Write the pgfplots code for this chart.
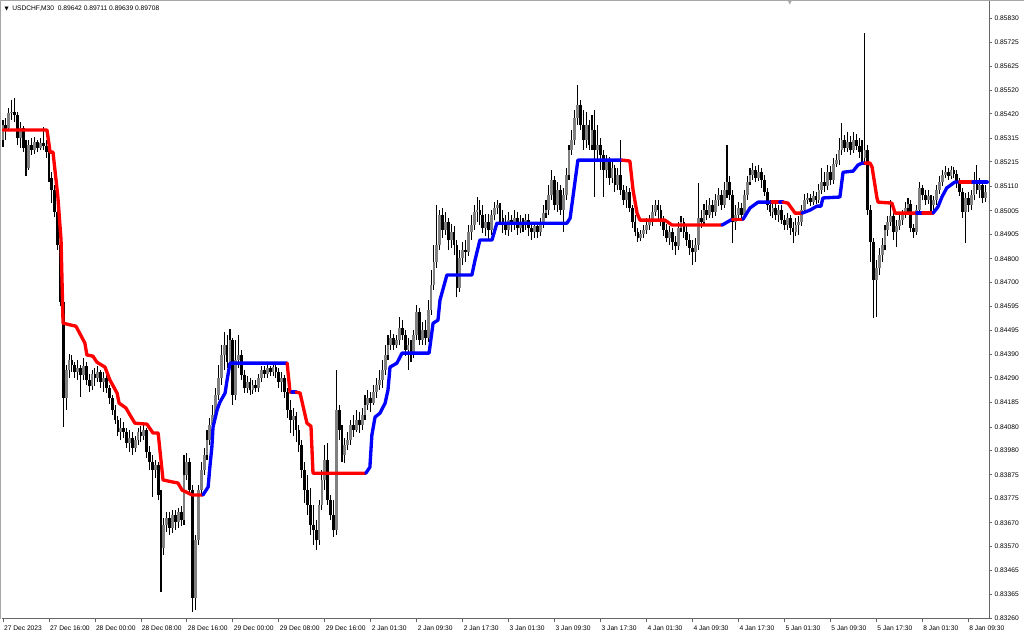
\documentclass[border=0pt]{standalone}
\usepackage{fontspec}
\setmainfont{Liberation Sans}
\newfontfamily\dejavu{DejaVu Sans}
\usepackage{pgfplots}
\usepackage{pgfplotstable}
\pgfplotsset{compat=1.18}
\newcommand\tf{\fontsize{5}{6}\selectfont}
\pgfplotsset{ind/.style={line width=2.5pt, line join=round, line cap=round, mark=none}}

\pgfplotstableread{
o h l c
0.85308 0.85393 0.85278 0.85372
0.85372 0.85402 0.85308 0.85351
0.85360 0.85445 0.85351 0.85423
0.85423 0.85479 0.85393 0.85427
0.85427 0.85488 0.85384 0.85415
0.85415 0.85427 0.85286 0.85317
0.85317 0.85384 0.85274 0.85360
0.85360 0.85367 0.85256 0.85274
0.85274 0.85308 0.85153 0.85188
0.85188 0.85308 0.85179 0.85286
0.85286 0.85317 0.85244 0.85265
0.85265 0.85321 0.85248 0.85299
0.85299 0.85308 0.85256 0.85274
0.85274 0.85317 0.85265 0.85295
0.85295 0.85364 0.85265 0.85282
0.85282 0.85308 0.85231 0.85256
0.85256 0.85265 0.85128 0.85145
0.85145 0.85170 0.85038 0.85094
0.85094 0.85116 0.84978 0.84999
0.84999 0.85017 0.84837 0.84859
0.84859 0.84880 0.84597 0.84614
0.84614 0.84623 0.84079 0.84204
0.84204 0.84345 0.84152 0.84323
0.84323 0.84392 0.84289 0.84366
0.84366 0.84388 0.84314 0.84345
0.84345 0.84357 0.84289 0.84314
0.84314 0.84366 0.84281 0.84332
0.84332 0.84345 0.84208 0.84302
0.84302 0.84375 0.84281 0.84340
0.84340 0.84357 0.84260 0.84281
0.84281 0.84306 0.84229 0.84255
0.84255 0.84323 0.84238 0.84306
0.84306 0.84332 0.84255 0.84289
0.84289 0.84340 0.84272 0.84314
0.84314 0.84323 0.84247 0.84272
0.84272 0.84314 0.84229 0.84289
0.84289 0.84302 0.84225 0.84247
0.84247 0.84260 0.84178 0.84204
0.84204 0.84217 0.84131 0.84152
0.84152 0.84174 0.84092 0.84109
0.84109 0.84126 0.84041 0.84058
0.84058 0.84118 0.84024 0.84075
0.84075 0.84100 0.84033 0.84058
0.84058 0.84075 0.83990 0.84011
0.84011 0.84067 0.83972 0.84033
0.84033 0.84058 0.83960 0.83990
0.83990 0.84041 0.83972 0.84024
0.84024 0.84075 0.84003 0.84058
0.84058 0.84083 0.84015 0.84041
0.84041 0.84092 0.84024 0.84067
0.84067 0.84075 0.83947 0.83972
0.83972 0.83998 0.83895 0.83929
0.83929 0.83960 0.83780 0.83895
0.83895 0.83938 0.83861 0.83917
0.83917 0.83929 0.83767 0.83789
0.83789 0.83810 0.83373 0.83562
0.83562 0.83690 0.83532 0.83660
0.83660 0.83715 0.83630 0.83690
0.83690 0.83715 0.83618 0.83647
0.83647 0.83724 0.83626 0.83703
0.83703 0.83724 0.83639 0.83672
0.83672 0.83733 0.83647 0.83715
0.83715 0.83741 0.83655 0.83681
0.83681 0.83960 0.83660 0.83874
0.83874 0.83968 0.83853 0.83929
0.83929 0.83947 0.83789 0.83810
0.83810 0.83832 0.83287 0.83348
0.83348 0.83618 0.83296 0.83596
0.83596 0.83832 0.83575 0.83810
0.83810 0.83929 0.83789 0.83895
0.83895 0.83990 0.83874 0.83960
0.83960 0.84067 0.83938 0.84024
0.84024 0.84118 0.84003 0.84088
0.84088 0.84174 0.84058 0.84131
0.84131 0.84247 0.84109 0.84217
0.84217 0.84345 0.84195 0.84289
0.84289 0.84430 0.84260 0.84388
0.84388 0.84486 0.84323 0.84430
0.84430 0.84473 0.84332 0.84357
0.84357 0.84499 0.84345 0.84452
0.84452 0.84461 0.84174 0.84217
0.84217 0.84452 0.84195 0.84366
0.84366 0.84473 0.84332 0.84388
0.84388 0.84409 0.84281 0.84302
0.84302 0.84323 0.84225 0.84247
0.84247 0.84297 0.84225 0.84272
0.84272 0.84289 0.84217 0.84238
0.84238 0.84281 0.84221 0.84260
0.84260 0.84281 0.84229 0.84247
0.84247 0.84306 0.84229 0.84289
0.84289 0.84340 0.84272 0.84323
0.84323 0.84340 0.84289 0.84306
0.84306 0.84349 0.84289 0.84332
0.84332 0.84340 0.84297 0.84314
0.84314 0.84357 0.84297 0.84336
0.84336 0.84349 0.84289 0.84314
0.84314 0.84332 0.84247 0.84272
0.84272 0.84314 0.84229 0.84289
0.84289 0.84302 0.84204 0.84229
0.84229 0.84247 0.84118 0.84152
0.84152 0.84195 0.84054 0.84109
0.84109 0.84161 0.84041 0.84126
0.84126 0.84143 0.84015 0.84067
0.84067 0.84088 0.83972 0.84003
0.84003 0.84024 0.83861 0.83895
0.83895 0.83929 0.83754 0.83810
0.83810 0.83874 0.83703 0.83746
0.83746 0.83819 0.83618 0.83660
0.83660 0.83746 0.83575 0.83639
0.83639 0.83681 0.83553 0.83596
0.83596 0.83767 0.83575 0.83746
0.83746 0.83895 0.83724 0.83853
0.83853 0.84003 0.83810 0.83938
0.83938 0.84011 0.83746 0.83767
0.83767 0.83789 0.83681 0.83703
0.83703 0.83767 0.83609 0.83639
0.83639 0.84323 0.83618 0.84152
0.84152 0.84174 0.84024 0.84067
0.84067 0.84088 0.83929 0.83960
0.83960 0.84033 0.83925 0.84003
0.84003 0.84058 0.83981 0.84024
0.84024 0.84109 0.84003 0.84088
0.84088 0.84131 0.84037 0.84067
0.84067 0.84152 0.84058 0.84109
0.84109 0.84143 0.84054 0.84088
0.84088 0.84161 0.84067 0.84131
0.84131 0.84217 0.84109 0.84174
0.84174 0.84238 0.84152 0.84204
0.84204 0.84229 0.84143 0.84182
0.84182 0.84260 0.84174 0.84229
0.84229 0.84289 0.84204 0.84260
0.84260 0.84323 0.84238 0.84281
0.84281 0.84366 0.84247 0.84323
0.84323 0.84430 0.84302 0.84388
0.84388 0.84473 0.84366 0.84430
0.84430 0.84495 0.84409 0.84461
0.84461 0.84478 0.84409 0.84430
0.84430 0.84473 0.84418 0.84452
0.84452 0.84550 0.84430 0.84504
0.84504 0.84537 0.84452 0.84473
0.84473 0.84495 0.84383 0.84409
0.84409 0.84461 0.84323 0.84430
0.84430 0.84452 0.84357 0.84388
0.84388 0.84495 0.84375 0.84473
0.84473 0.84601 0.84452 0.84571
0.84571 0.84589 0.84430 0.84452
0.84452 0.84528 0.84430 0.84495
0.84495 0.84537 0.84430 0.84461
0.84461 0.84623 0.84443 0.84580
0.84580 0.84751 0.84559 0.84688
0.84688 0.84859 0.84666 0.84785
0.84785 0.85029 0.84760 0.84859
0.84859 0.85008 0.84837 0.84987
0.84987 0.85017 0.84889 0.84923
0.84923 0.84999 0.84902 0.84956
0.84956 0.84974 0.84837 0.84880
0.84880 0.84948 0.84846 0.84914
0.84914 0.84939 0.84816 0.84859
0.84859 0.84880 0.84636 0.84675
0.84675 0.84837 0.84657 0.84803
0.84803 0.84871 0.84773 0.84837
0.84837 0.84880 0.84785 0.84828
0.84828 0.84944 0.84811 0.84914
0.84914 0.84987 0.84880 0.84944
0.84944 0.85029 0.84923 0.84999
0.84999 0.85064 0.84956 0.85008
0.85008 0.85051 0.84944 0.84987
0.84987 0.85029 0.84910 0.84931
0.84931 0.84991 0.84897 0.84956
0.84956 0.84991 0.84880 0.84923
0.84923 0.85008 0.84902 0.84987
0.84987 0.85042 0.84965 0.85017
0.85017 0.85051 0.84991 0.85029
0.85029 0.85038 0.84944 0.84974
0.84974 0.85008 0.84910 0.84944
0.84944 0.84987 0.84902 0.84923
0.84923 0.84999 0.84897 0.84965
0.84965 0.84987 0.84914 0.84944
0.84944 0.85008 0.84923 0.84974
0.84974 0.84999 0.84902 0.84931
0.84931 0.84987 0.84910 0.84956
0.84956 0.84974 0.84914 0.84944
0.84944 0.84991 0.84923 0.84965
0.84965 0.84991 0.84897 0.84931
0.84931 0.84956 0.84880 0.84914
0.84914 0.84956 0.84889 0.84939
0.84939 0.84948 0.84889 0.84914
0.84914 0.84974 0.84897 0.84944
0.84944 0.85029 0.84931 0.84995
0.84995 0.85051 0.84974 0.85008
0.85008 0.85116 0.84987 0.85073
0.85073 0.85179 0.85051 0.85137
0.85137 0.85153 0.85008 0.85029
0.85029 0.85128 0.84999 0.85094
0.85094 0.85116 0.84987 0.85008
0.85008 0.85103 0.84914 0.85073
0.85073 0.85188 0.85051 0.85158
0.85158 0.85286 0.85137 0.85265
0.85265 0.85351 0.85244 0.85308
0.85308 0.85436 0.85286 0.85402
0.85402 0.85544 0.85372 0.85458
0.85458 0.85479 0.85351 0.85372
0.85372 0.85436 0.85265 0.85308
0.85308 0.85427 0.85274 0.85372
0.85372 0.85393 0.85265 0.85286
0.85286 0.85415 0.85265 0.85351
0.85351 0.85436 0.85064 0.85265
0.85265 0.85372 0.85222 0.85286
0.85286 0.85317 0.85179 0.85244
0.85244 0.85265 0.85064 0.85179
0.85179 0.85244 0.85145 0.85213
0.85213 0.85235 0.85116 0.85145
0.85145 0.85222 0.85124 0.85188
0.85188 0.85201 0.85085 0.85116
0.85116 0.85188 0.85094 0.85158
0.85158 0.85308 0.85073 0.85094
0.85094 0.85116 0.85029 0.85051
0.85051 0.85111 0.85017 0.85085
0.85085 0.85103 0.84999 0.85017
0.85017 0.85029 0.84931 0.84956
0.84956 0.84987 0.84897 0.84914
0.84914 0.84931 0.84871 0.84889
0.84889 0.84923 0.84876 0.84906
0.84906 0.84944 0.84889 0.84923
0.84923 0.84974 0.84906 0.84944
0.84944 0.84987 0.84923 0.84956
0.84956 0.85029 0.84939 0.84999
0.84999 0.85051 0.84982 0.85029
0.85029 0.85051 0.84965 0.85008
0.85008 0.85029 0.84939 0.84956
0.84956 0.84982 0.84897 0.84923
0.84923 0.84948 0.84871 0.84889
0.84889 0.84939 0.84859 0.84914
0.84914 0.84931 0.84837 0.84871
0.84871 0.84897 0.84816 0.84854
0.84854 0.84956 0.84837 0.84931
0.84931 0.84982 0.84914 0.84956
0.84956 0.84974 0.84889 0.84914
0.84914 0.84939 0.84854 0.84880
0.84880 0.84906 0.84816 0.84846
0.84846 0.84880 0.84773 0.84828
0.84828 0.84889 0.84785 0.84859
0.84859 0.85124 0.84837 0.84974
0.84974 0.85008 0.84931 0.84956
0.84956 0.85034 0.84939 0.85008
0.85008 0.85051 0.84965 0.84987
0.84987 0.85060 0.84974 0.85029
0.85029 0.85051 0.84974 0.84999
0.84999 0.85077 0.84982 0.85051
0.85051 0.85103 0.85025 0.85073
0.85073 0.85094 0.85008 0.85029
0.85029 0.85128 0.85017 0.85094
0.85094 0.85286 0.85060 0.85128
0.85128 0.85153 0.85051 0.85073
0.85073 0.85094 0.84867 0.84956
0.84956 0.85029 0.84923 0.84987
0.84987 0.85042 0.84965 0.85017
0.85017 0.85038 0.84965 0.84987
0.84987 0.85094 0.84974 0.85073
0.85073 0.85153 0.85051 0.85128
0.85128 0.85188 0.85116 0.85158
0.85158 0.85209 0.85137 0.85179
0.85179 0.85196 0.85128 0.85145
0.85145 0.85201 0.85133 0.85170
0.85170 0.85188 0.85103 0.85137
0.85137 0.85158 0.85068 0.85085
0.85085 0.85103 0.85008 0.85029
0.85029 0.85051 0.84982 0.84999
0.84999 0.85038 0.84974 0.85017
0.85017 0.85034 0.84965 0.84987
0.84987 0.85029 0.84956 0.85008
0.85008 0.85029 0.84948 0.84965
0.84965 0.84987 0.84923 0.84944
0.84944 0.84995 0.84923 0.84974
0.84974 0.84987 0.84902 0.84931
0.84931 0.84956 0.84867 0.84914
0.84914 0.84974 0.84897 0.84944
0.84944 0.84982 0.84902 0.84956
0.84956 0.85029 0.84939 0.85008
0.85008 0.85077 0.84991 0.85051
0.85051 0.85081 0.85034 0.85060
0.85060 0.85077 0.85025 0.85042
0.85042 0.85090 0.85029 0.85068
0.85068 0.85085 0.85034 0.85051
0.85051 0.85120 0.85038 0.85094
0.85094 0.85188 0.85077 0.85128
0.85128 0.85170 0.85085 0.85111
0.85111 0.85201 0.85094 0.85170
0.85170 0.85196 0.85116 0.85137
0.85137 0.85231 0.85120 0.85205
0.85205 0.85248 0.85192 0.85222
0.85222 0.85317 0.85201 0.85265
0.85265 0.85380 0.85244 0.85308
0.85308 0.85329 0.85256 0.85274
0.85274 0.85342 0.85256 0.85299
0.85299 0.85325 0.85244 0.85265
0.85265 0.85342 0.85252 0.85308
0.85308 0.85334 0.85265 0.85282
0.85282 0.85317 0.85231 0.85256
0.85256 0.85308 0.85201 0.85231
0.85231 0.85766 0.85201 0.85265
0.85265 0.85286 0.84987 0.85008
0.85008 0.85029 0.84785 0.84871
0.84871 0.84889 0.84546 0.84709
0.84709 0.84794 0.84550 0.84760
0.84760 0.84846 0.84730 0.84816
0.84816 0.84889 0.84785 0.84859
0.84859 0.84944 0.84837 0.84923
0.84923 0.84982 0.84897 0.84956
0.84956 0.85051 0.84939 0.84982
0.84982 0.84999 0.84880 0.84914
0.84914 0.84965 0.84850 0.84939
0.84939 0.84987 0.84923 0.84965
0.84965 0.85008 0.84944 0.84987
0.84987 0.85042 0.84974 0.85017
0.85017 0.85060 0.84999 0.85034
0.85034 0.85051 0.84914 0.84931
0.84931 0.84948 0.84889 0.84914
0.84914 0.85029 0.84902 0.85008
0.85008 0.85128 0.84987 0.85103
0.85103 0.85116 0.85051 0.85073
0.85073 0.85094 0.85029 0.85051
0.85051 0.85094 0.85034 0.85068
0.85068 0.85073 0.84999 0.85029
0.85029 0.85068 0.84999 0.85051
0.85051 0.85116 0.85029 0.85094
0.85094 0.85153 0.85077 0.85128
0.85128 0.85179 0.85111 0.85158
0.85158 0.85196 0.85145 0.85170
0.85170 0.85188 0.85137 0.85153
0.85153 0.85196 0.85141 0.85179
0.85179 0.85192 0.85145 0.85162
0.85162 0.85179 0.85103 0.85124
0.85124 0.85145 0.85068 0.85085
0.85085 0.85103 0.84974 0.84999
0.84999 0.85081 0.84867 0.85060
0.85060 0.85085 0.84999 0.85029
0.85029 0.85094 0.85008 0.85073
0.85073 0.85170 0.85051 0.85137
0.85137 0.85201 0.85077 0.85094
0.85094 0.85145 0.85060 0.85116
0.85116 0.85128 0.85038 0.85060
0.85060 0.85116 0.85042 0.85085
}\bars

\begin{document}
\begin{tikzpicture}[x=1pt,y=1pt]
\path[use as bounding box] (0,0) rectangle (768,479.25);
\fill[white] (0,0) rectangle (768,479.25);
\begin{axis}[
  at={(1.5pt,15pt)}, anchor=south west,
  scale only axis, width=740.25pt, height=463.5pt,
  xmin=-0.35, xmax=343.2, ymin=0.83258, ymax=0.85903,
  axis x line*=bottom, axis y line*=right,
  axis line style={black!60, line width=0.75pt},
  tick align=outside, major tick length=2.5pt,
  tick style={black!60, line width=0.6pt},
  xtick={0,16,...,336},
  xticklabels={27 Dec 2023,27 Dec 16:00,28 Dec 00:00,28 Dec 08:00,28 Dec 16:00,29 Dec 00:00,29 Dec 08:00,29 Dec 16:00,2 Jan 01:30,2 Jan 09:30,2 Jan 17:30,3 Jan 01:30,3 Jan 09:30,3 Jan 17:30,4 Jan 01:30,4 Jan 09:30,4 Jan 17:30,5 Jan 01:30,5 Jan 09:30,5 Jan 17:30,8 Jan 01:30,8 Jan 09:30},
  ytick={0.85830,0.85725,0.85625,0.85520,0.85420,0.85315,0.85215,0.85110,0.85005,0.84905,0.84800,0.84700,0.84595,0.84495,0.84390,0.84290,0.84185,0.84080,0.83980,0.83875,0.83775,0.83670,0.83570,0.83465,0.83365,0.83260},
  yticklabels={0.85830,0.85725,0.85625,0.85520,0.85420,0.85315,0.85215,0.85110,0.85005,0.84905,0.84800,0.84700,0.84595,0.84495,0.84390,0.84290,0.84185,0.84080,0.83980,0.83875,0.83775,0.83670,0.83570,0.83465,0.83365,0.83260},
  x tick label style={font=\tf, anchor=north west, inner sep=0pt, xshift=0.6pt, yshift=-2.8pt},
  y tick label style={font=\tf, anchor=west, inner sep=0pt, xshift=1.5pt},
  scaled y ticks=false,
  /pgf/number format/assume math mode=true,
]
% wicks
\addplot[draw=none, mark=none, forget plot,
  error bars/.cd, y dir=plus, y explicit, error mark=none,
  error bar style={draw=black, line width=0.8pt}]
  table[x expr=\coordindex, y=l, y error plus expr=\thisrow{h}-\thisrow{l}] {\bars};
% bullish bodies (zero length where bearish)
\addplot[draw=none, mark=none, forget plot,
  error bars/.cd, y dir=plus, y explicit, error mark=none,
  error bar style={draw=black!50, line width=2.1pt, line cap=butt}]
  table[x expr=\coordindex, y=o, y error plus expr={max(\thisrow{c}-\thisrow{o},0)}] {\bars};
% bearish bodies (zero length where bullish)
\addplot[draw=none, mark=none, forget plot,
  error bars/.cd, y dir=plus, y explicit, error mark=none,
  error bar style={draw=black, line width=2.1pt, line cap=butt}]
  table[x expr=\coordindex, y=c, y error plus expr={max(\thisrow{o}-\thisrow{c},0)}] {\bars};

\addplot[red, ind] coordinates {(0,0.85351) (15.3,0.85351) (16.4,0.85256) (17.4,0.85256) (19.1,0.85064) (20.2,0.84880) (20.9,0.84524) (25.4,0.84511) (28.5,0.84439) (29.2,0.84388) (31.3,0.84383) (32.7,0.84357) (35.5,0.84336) (37.2,0.84281) (39.7,0.84225) (40.4,0.84182) (42.8,0.84161) (44.2,0.84131) (45.9,0.84096) (50.1,0.84092) (52.2,0.84054) (54,0.84054) (55.7,0.83853) (59.2,0.83844) (60.9,0.83840) (62.3,0.83810) (65.8,0.83789) (69.6,0.83789)};
\addplot[blue, ind] coordinates {(69.6,0.83789) (71.4,0.83823) (72,0.83908) (72.7,0.83994) (73.1,0.84079) (74.5,0.84152) (75.5,0.84186) (77.3,0.84225) (78,0.84281) (79,0.84353) (98.9,0.84353)};
\addplot[red, ind] coordinates {(98.9,0.84353) (99.9,0.84229) (100.6,0.84229)};
\addplot[blue, ind] coordinates {(100.6,0.84229) (102,0.84229)};
\addplot[red, ind] coordinates {(102,0.84229) (103.4,0.84225) (105.8,0.84096) (107.2,0.84083) (107.9,0.83882) (126.3,0.83882)};
\addplot[blue, ind] coordinates {(126.3,0.83882) (127.7,0.83908) (128.4,0.84046) (129.5,0.84122) (131.2,0.84139) (133,0.84182) (134,0.84238) (134.7,0.84336) (137.1,0.84353) (138.9,0.84396) (148.3,0.84396) (149.7,0.84524) (151.4,0.84537) (152.1,0.84623) (154.5,0.84730) (163.2,0.84730) (164.3,0.84794) (166,0.84880) (170.2,0.84880) (171.9,0.84952) (196.3,0.84952) (197.4,0.84974) (200.1,0.85222) (215.5,0.85222)};
\addplot[red, ind] coordinates {(215.5,0.85222) (218.2,0.85218) (219.3,0.85094) (220.7,0.84995) (221.7,0.84965) (230.4,0.84965) (232.9,0.84944) (250.3,0.84944)};
\addplot[blue, ind] coordinates {(250.3,0.84944) (252,0.84956) (253.8,0.84969)};
\addplot[red, ind] coordinates {(253.8,0.84969) (257.6,0.84969)};
\addplot[blue, ind] coordinates {(257.6,0.84969) (260,0.85017) (262.8,0.85042) (267.7,0.85042)};
\addplot[red, ind] coordinates {(267.7,0.85042) (270.4,0.85042)};
\addplot[blue, ind] coordinates {(270.4,0.85042) (271.5,0.85042)};
\addplot[red, ind] coordinates {(271.5,0.85042) (273.2,0.85038) (275.7,0.84995) (278.1,0.84995)};
\addplot[blue, ind] coordinates {(278.1,0.84995) (280.9,0.85008) (283.3,0.85025) (284.7,0.85025) (285.4,0.85060) (291.3,0.85064) (292.4,0.85170) (295.9,0.85175) (297.6,0.85201) (299,0.85209) (300,0.85209)};
\addplot[red, ind] coordinates {(300,0.85209) (301.8,0.85209) (302.5,0.85192) (304.2,0.85060) (304.6,0.85042) (309.4,0.85038) (310.5,0.84995) (318.1,0.84995)};
\addplot[blue, ind] coordinates {(318.1,0.84995) (320.2,0.84995)};
\addplot[red, ind] coordinates {(320.2,0.84995) (323.7,0.84995)};
\addplot[blue, ind] coordinates {(323.7,0.84995) (325.4,0.85021) (326.8,0.85064) (328.5,0.85103) (331.3,0.85128) (333.1,0.85128)};
\addplot[red, ind] coordinates {(333.1,0.85128) (337.6,0.85128)};
\addplot[blue, ind] coordinates {(337.6,0.85128) (342.6,0.85128)};
\end{axis}
% window frame
\draw[black!35, line width=0.75pt] (0.375,15) -- (0.375,478.875) -- (768,478.875);
% header
\node[anchor=center, inner sep=0pt, font=\dejavu\fontsize{4}{4}\selectfont] at (5pt,472.5pt) {▼};
\node[anchor=west, inner sep=0pt, font=\tf] at (9pt,472.5pt) {USDCHF,M30\ \ 0.89642 0.89711 0.89639 0.89708};
\node[anchor=center, inner sep=0pt, font=\dejavu\fontsize{4}{4}\selectfont, text=black!35] at (592.5pt,477pt) {▼};
\end{tikzpicture}
\end{document}
